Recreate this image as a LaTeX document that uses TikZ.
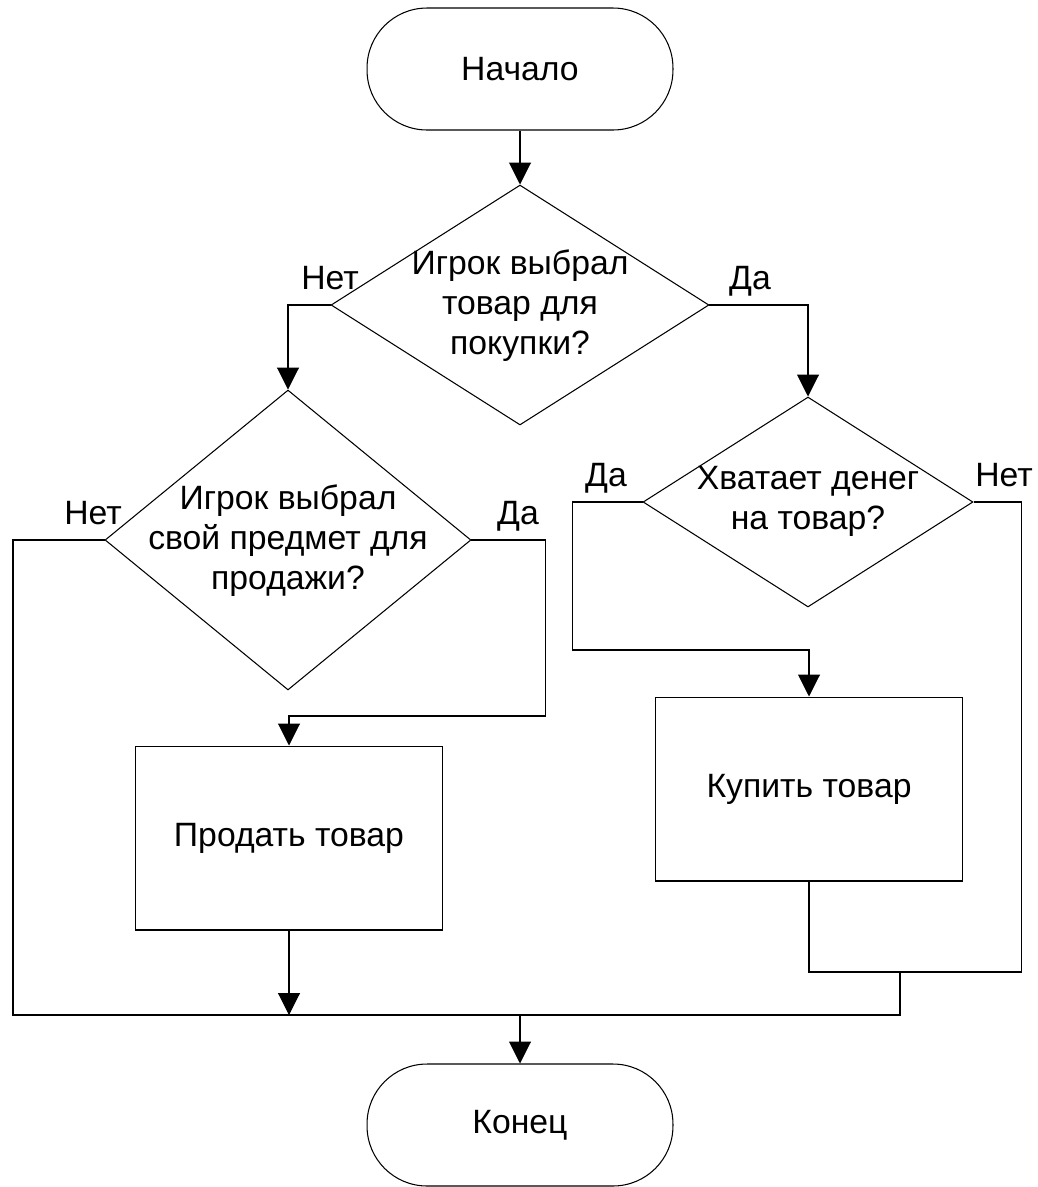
\documentclass[tikz,border=0pt]{standalone}
\usepackage{fontspec}
\setmainfont{Liberation Sans}
\usetikzlibrary{shapes.geometric,arrows.meta}
\begin{document}
\begin{tikzpicture}[x=0.02cm,y=-0.02cm,line width=0.6pt,
  font=\fontsize{19.2}{22.8}\selectfont,
  term/.style={draw, rectangle, rounded corners=1.2cm, minimum width=6.12cm, minimum height=2.44cm},
  cond/.style={draw, diamond, inner sep=0pt},
  proc/.style={draw, rectangle, minimum width=6.14cm, minimum height=3.68cm},
  txt/.style={align=center},
  lbl/.style={anchor=base},
  flow/.style={-{Triangle[length=0.44cm,width=0.44cm]}}]
\useasboundingbox (0,0) rectangle (1038,1187);
\node[term] (start) at (520,69) {Начало};
\node[cond, minimum width=7.56cm, minimum height=4.8cm] (d1) at (520,305) {};
\node[txt] (d1t) at (520,306) {Игрок выбрал\\товар для\\покупки?};
\node[lbl] (d1no) at (330,289) {Нет};
\node[lbl] (d1yes) at (750,289) {Да};
\node[cond, minimum width=7.32cm, minimum height=6cm] (d2) at (288,540) {};
\node[txt] (d2t) at (288,541) {Игрок выбрал\\свой предмет для\\продажи?};
\node[lbl] (d2no) at (93,524) {Нет};
\node[lbl] (d2yes) at (518,524) {Да};
\node[cond, minimum width=6.6cm, minimum height=4.2cm] (d3) at (808,502) {};
\node[txt] (d3t) at (808,501) {Хватает денег\\на товар?};
\node[lbl] (d3yes) at (606,486) {Да};
\node[lbl] (d3no) at (1004,486) {Нет};
\node[proc] (sell) at (289,838) {Продать товар};
\node[proc] (buy) at (809,789) {Купить товар};
\node[term] (finish) at (520,1125) {Конец};
\coordinate (jl) at (13,1015);
\coordinate (jr) at (900,1015);
\coordinate (jb) at (900,972);
\draw[flow] (start.south) -- (d1.north);
\draw[flow] (d1.west) -| (d2.north);
\draw[flow] (d1.east) -| (d3.north);
\draw (d2.west) -| (jl) -- (jr) -- (jb);
\draw[flow] (d2.east) -- ++(74,0) -- ++(0,176) -| (sell.north);
\draw[flow] (sell.south) -- (sell.south |- jl);
\draw[flow] (jl -| finish.north) -- (finish.north);
\draw[flow] (d3.west) -- ++(-70,0) -- ++(0,148) -| (buy.north);
\draw (d3.east) -- ++(48,0) |- (jb) -| (buy.south);
\end{tikzpicture}
\end{document}
